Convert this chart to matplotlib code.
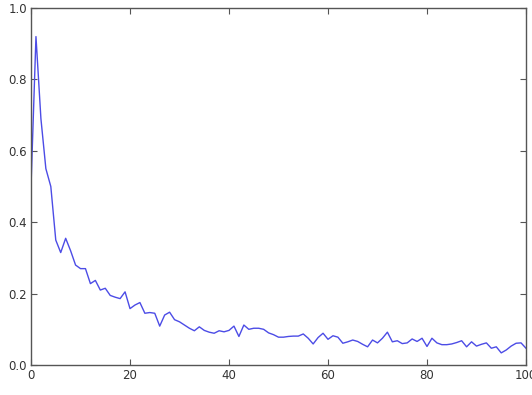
import numpy as np
import matplotlib
matplotlib.use("Agg")
import matplotlib.pyplot as plt

# values, one per step 0..100
steps = list(range(101))
loss = [
    0.50, 0.92, 0.69, 0.55, 0.50, 0.35, 0.315, 0.355, 0.32, 0.28,
    0.27, 0.27, 0.228, 0.237, 0.21, 0.215, 0.195, 0.19, 0.186, 0.205,
    0.158, 0.168, 0.175, 0.145, 0.147, 0.145, 0.109, 0.14, 0.148, 0.127,
    0.121, 0.112, 0.103, 0.096, 0.107, 0.097, 0.092, 0.089, 0.096, 0.093,
    0.097, 0.109, 0.080, 0.112, 0.100, 0.103, 0.103, 0.100, 0.090, 0.085,
    0.078, 0.078, 0.080, 0.081, 0.081, 0.087, 0.075, 0.059, 0.077, 0.089,
    0.072, 0.082, 0.078, 0.061, 0.065, 0.070, 0.066, 0.058, 0.051, 0.070,
    0.062, 0.075, 0.092, 0.065, 0.068, 0.060, 0.062, 0.073, 0.066, 0.075,
    0.052, 0.075, 0.062, 0.057, 0.057, 0.059, 0.063, 0.068, 0.051, 0.065,
    0.053, 0.058, 0.062, 0.047, 0.051, 0.034, 0.042, 0.053, 0.061, 0.062,
    0.047,
]
xticks = [0, 20, 40, 60, 80, 100]
yticks = [0.0, 0.2, 0.4, 0.6, 0.8, 1.0]

fig = plt.figure(figsize=(5.32, 3.95), dpi=100)
ax = fig.add_axes([0.0583, 0.0759, 0.9304, 0.9038])

ax.plot(steps, loss, color="#4c4ce6", lw=1.0)

ax.set_xlim(0, 100)
ax.set_ylim(0, 1.0)
ax.set_xticks(xticks)
ax.set_yticks(yticks)
ax.set_yticklabels([f"{v:.1f}" for v in yticks])

for s in ax.spines.values():
    s.set_color("#555555")
    s.set_linewidth(1.0)
ax.tick_params(direction="in", top=True, right=True, length=4,
               labelsize=8.5, labelcolor="#333333", color="#555555", pad=3)

fig.savefig("out.png", dpi=100)
